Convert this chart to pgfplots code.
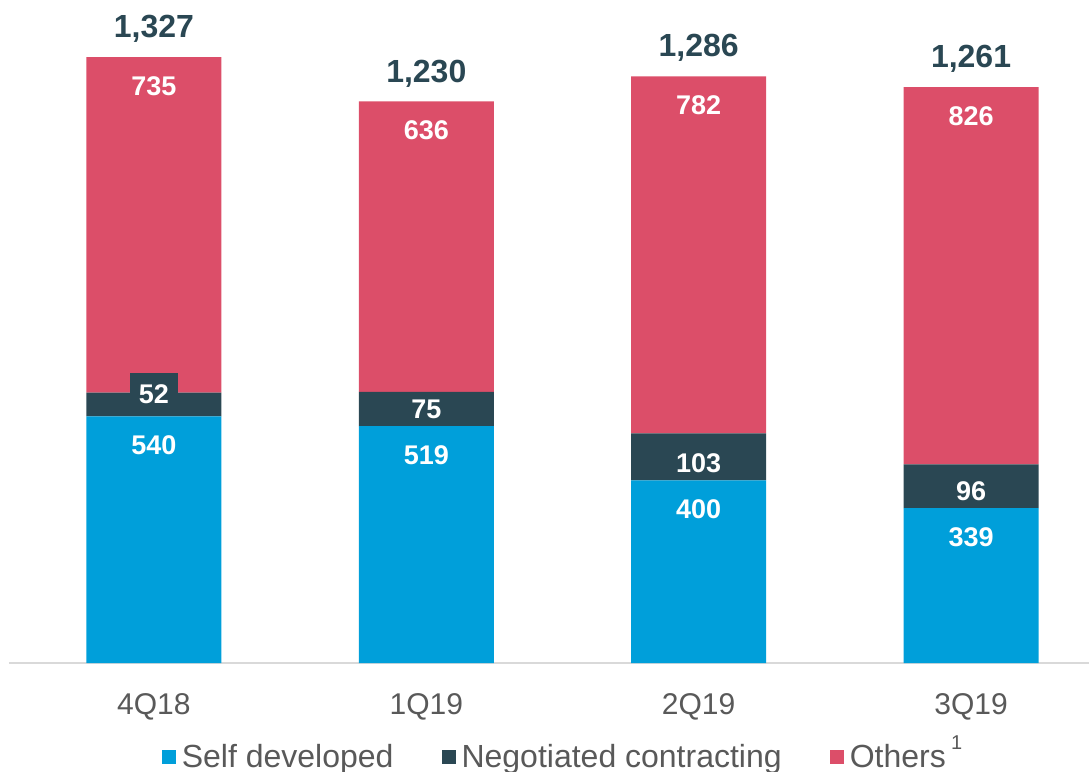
\documentclass[border=0pt]{standalone}
\usepackage{fontspec}
\setmainfont{Liberation Sans}
\usepackage{pgfplots}
\pgfplotsset{compat=1.18}
\definecolor{cblue}{RGB}{0,159,218}
\definecolor{cdark}{RGB}{42,71,83}
\definecolor{cred}{RGB}{220,78,105}
\definecolor{ctext}{RGB}{89,89,89}
\definecolor{caxis}{RGB}{217,217,217}
\pgfplotsset{
  sq legend/.style={legend image code/.code={\fill[##1] (0pt,-3.5pt) rectangle (7pt,3.5pt);}},
  common/.style={scale only axis, width=540pt, height=331.5pt,
    xmin=-0.532, xmax=3.433, ymin=0, ymax=1452, bar width=67.5pt},
}
\begin{document}
\begin{tikzpicture}
\path[use as bounding box] (-4.5pt,-54.5pt) rectangle (540pt,331.5pt);
\begin{axis}[
  common,
  ybar stacked,
  axis y line=none, axis x line=bottom,
  x axis line style={-, draw=caxis, line width=1pt},
  xtick={0,1,2,3}, xticklabels={4Q18,1Q19,2Q19,3Q19},
  major tick length=0pt,
  xticklabel style={font=\fontsize{15}{15}\selectfont, text=ctext, anchor=center, yshift=-22pt},
  legend style={at={(axis description cs:0.513,-0.142)}, anchor=center, draw=none, fill=none,
    legend columns=-1, font=\fontsize{16}{16}\selectfont, text=ctext,
    nodes={inner xsep=1pt},
    /tikz/every odd column/.append style={column sep=2pt},
    /tikz/every even column/.append style={column sep=23pt}},
  nodes near coords={\pgfmathprintnumber[assume math mode=true]{\pgfplotspointmeta}},
  visualization depends on={rawy \as \rawy},
  every node near coord/.append style={font=\fontsize{13.5}{13.5}\selectfont\bfseries, text=white, anchor=center},
]
\addplot[sq legend, fill=cblue, draw=none,
  every node near coord/.append style={yshift={(0.11415*\rawy-14.5)*1pt}}]
  coordinates {(0,540) (1,519) (2,400) (3,339)};
\addplot[sq legend, fill=cdark, draw=none,
  every node near coord/.append style={fill=cdark, inner xsep=4.5pt,
     inner ysep={(\rawy<60 ? 5.9 : 1)*1pt},
     yshift={(\rawy<60 ? 5 : -0.11*(\rawy-75))*1pt}}]
  coordinates {(0,52) (1,75) (2,103) (3,96)};
\addplot[sq legend, fill=cred, draw=none,
  every node near coord/.append style={yshift={(0.11415*\rawy-14.5)*1pt}}]
  coordinates {(0,735) (1,636) (2,782) (3,826)};
\legend{Self developed, Negotiated contracting, Others\,\smash{\raisebox{9pt}{\fontsize{10}{10}\selectfont 1}}}
\end{axis}
\begin{axis}[
  common, ybar, hide axis,
  nodes near coords={\pgfmathprintnumber[assume math mode=true]{\pgfplotspointmeta}},
  every node near coord/.append style={text=cdark, font=\fontsize{16}{16}\selectfont\bfseries, anchor=center, yshift=14pt},
]
\addplot[draw=none, fill=none] coordinates {(0,1327) (1,1230) (2,1286) (3,1261)};
\end{axis}
\end{tikzpicture}
\end{document}
